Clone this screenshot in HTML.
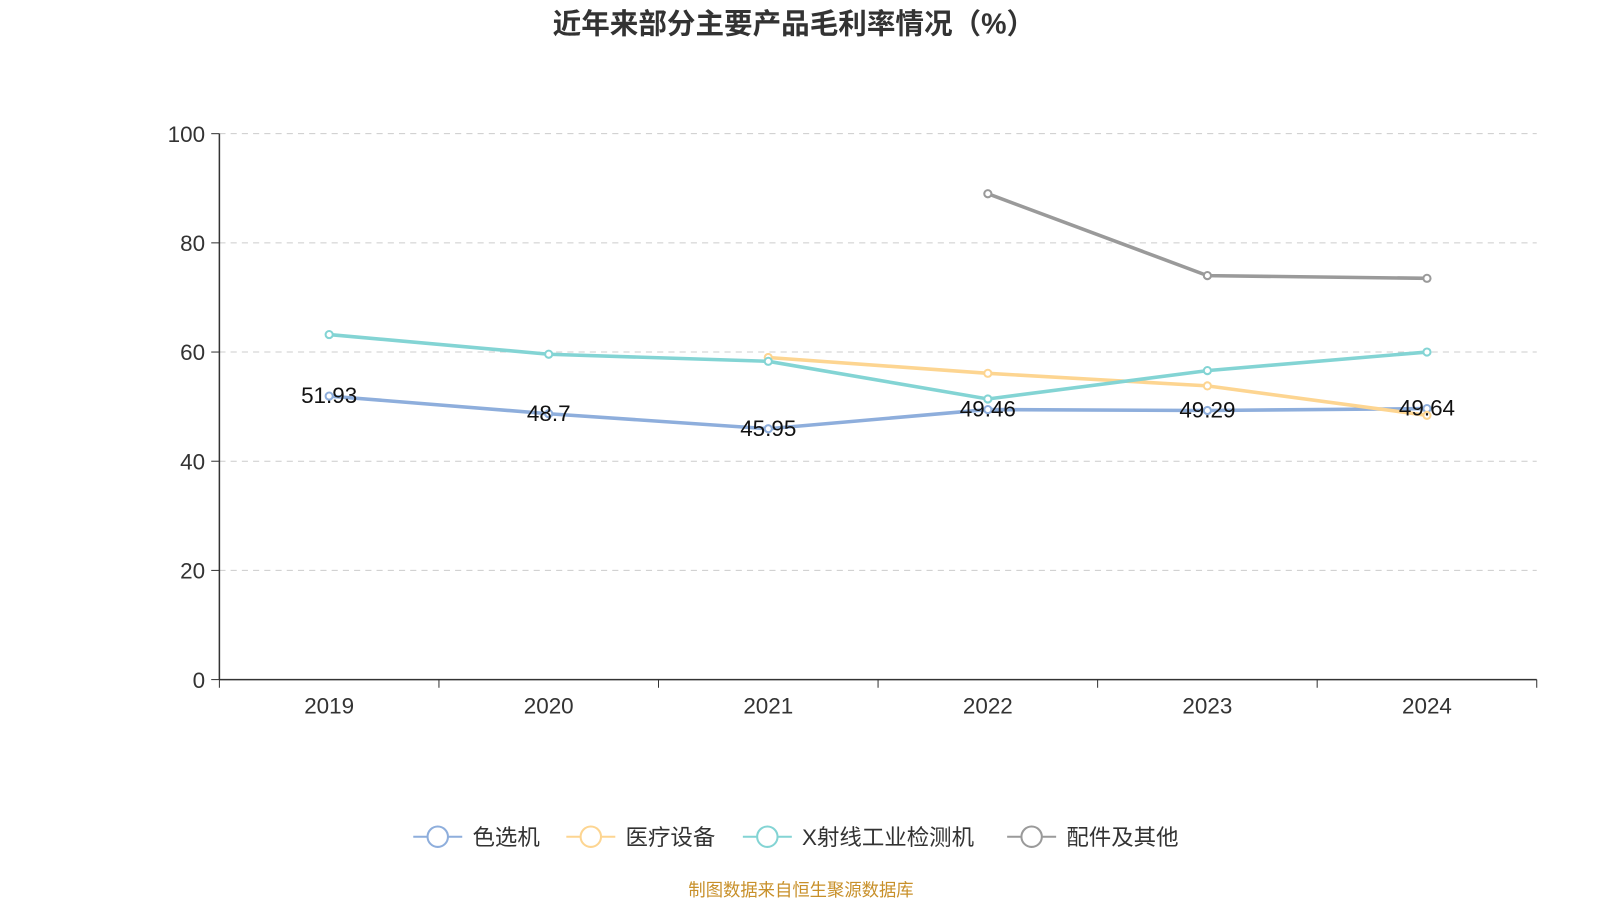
<!DOCTYPE html>
<html><head><meta charset="utf-8"><style>
body{margin:0;background:#fff;font-family:"Liberation Sans","Noto Sans CJK SC",sans-serif}
</style></head><body>
<svg id="c" width="1600" height="900" xmlns="http://www.w3.org/2000/svg" font-family="'Liberation Sans','Noto Sans CJK SC',sans-serif">
<g transform="scale(1.020408)">
<text x="778" y="33" text-anchor="middle" font-size="28" font-weight="bold" fill="#333">近年来部分主要产品毛利率情况（%）</text>
<g id="grid"></g><g id="series"></g><g id="legend"></g>
<text x="785" y="878" text-anchor="middle" font-size="17" fill="#c8902a">制图数据来自恒生聚源数据库</text>
</g>
</svg>
<script>
const categories=["2019","2020","2021","2022","2023","2024"];
const yTicks=[0,20,40,60,80,100];
const seriesNames=["色选机","医疗设备","X射线工业检测机","配件及其他"];
const seriesColors=["#8eaedc","#fdd591","#83d4d4","#9a9a9a"];
const sortMachine=[51.93,48.7,45.95,49.46,49.29,49.64];
const medical=[null,null,59.0,56.1,53.8,48.4];
const xray=[63.2,59.6,58.3,51.4,56.6,60.0];
const parts=[null,null,null,89.0,74.0,73.5];
const allSeries=[sortMachine,medical,xray,parts];
const NS="http://www.w3.org/2000/svg";
const L=215,R=1506,T=131,B=666;
const bw=(R-L)/categories.length;
const x=i=>L+bw*(i+0.5);
const y=v=>B-(v/100)*(B-T);
function mk(tag,attrs,parent){const e=document.createElementNS(NS,tag);for(const k in attrs)e.setAttribute(k,attrs[k]);parent.appendChild(e);return e;}
const g=document.getElementById('grid');
yTicks.forEach(t=>{
 if(t>0){const l=mk('line',{x1:L,x2:R,y1:y(t),y2:y(t),stroke:'#ccc','stroke-dasharray':'6,5'},g);
 
 }
 const tk=mk('line',{x1:L-8,x2:L,y1:y(t),y2:y(t),stroke:'#333'},g);
 
 
 const tx=mk('text',{x:L-14,y:y(t)+8,'text-anchor':'end','font-size':22,fill:'#333'},g);tx.textContent=t;
 
 
});
const ya=mk('line',{x1:L,x2:L,y1:T,y2:B,stroke:'#333','stroke-width':1.5},g);


const xa=mk('line',{x1:L,x2:R,y1:B,y2:B,stroke:'#333','stroke-width':1.5},g);


for(let i=0;i<=categories.length;i++){const t=mk('line',{x1:L+bw*i,x2:L+bw*i,y1:B,y2:B+8,stroke:'#333'},g);
 
 }
categories.forEach((c,i)=>{const t=mk('text',{x:x(i),y:B+33,'text-anchor':'middle','font-size':22,fill:'#333'},g);t.textContent=c;
 
 });
const sg=document.getElementById('series');
allSeries.forEach((s,si)=>{
 const pts=[];s.forEach((v,i)=>{if(v!=null)pts.push([x(i),y(v)]);});
 const p=mk('polyline',{points:pts.map(p=>p.join(',')).join(' '),fill:'none',stroke:seriesColors[si],'stroke-width':3.5},sg);
 
 
 pts.forEach(q=>{const c=mk('circle',{cx:q[0],cy:q[1],r:3.5,fill:'#fff',stroke:seriesColors[si],'stroke-width':2},sg);
 
 });
});
sortMachine.forEach((v,i)=>{const t=mk('text',{x:x(i),y:y(v)+7,'text-anchor':'middle','font-size':22,fill:'#111'},sg);t.textContent=v;
 
 });
const lg=document.getElementById('legend');
const lx=[405,555,728,987];
seriesNames.forEach((n,i)=>{
 const gr=mk('g',{},lg);
 
 
 mk('line',{x1:lx[i],x2:lx[i]+48,y1:820,y2:820,stroke:seriesColors[i],'stroke-width':2},gr);
 mk('circle',{cx:lx[i]+24,cy:820,r:10,fill:'#fff',stroke:seriesColors[i],'stroke-width':2},gr);
 const t=mk('text',{x:lx[i]+58,y:828,'font-size':22,fill:'#333'},gr);t.textContent=n;
});
</script>
</body></html>
